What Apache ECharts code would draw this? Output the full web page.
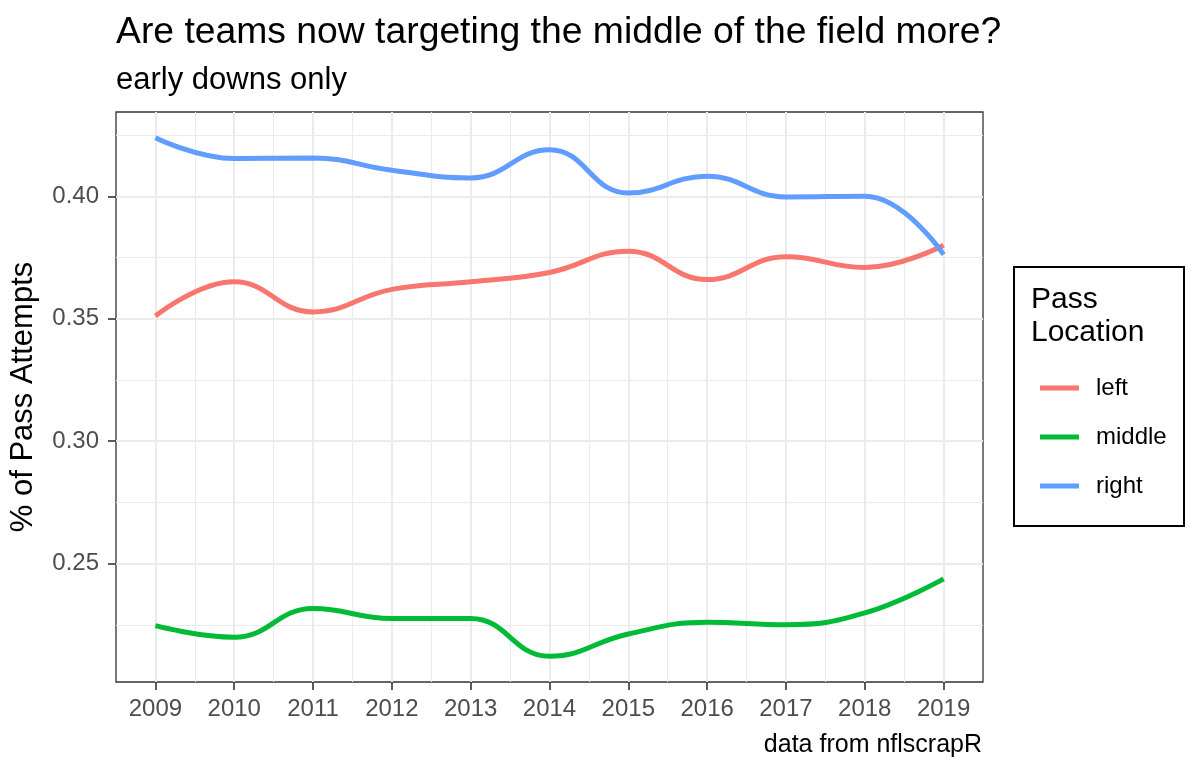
<!DOCTYPE html>
<html>
<head>
<meta charset="utf-8">
<script src="https://cdn.jsdelivr.net/npm/echarts@6/dist/echarts.min.js"></script>
<style>html,body{margin:0;padding:0;background:#ffffff}#chart{width:1200px;height:775px}</style>
</head>
<body>
<div id="chart"></div>
<script>
// ---- data ----
const years = [2009, 2010, 2011, 2012, 2013, 2014, 2015, 2016, 2017, 2018, 2019];
const leftShare   = [0.3511, 0.3651, 0.3528, 0.3620, 0.3651, 0.3689, 0.3776, 0.3660, 0.3753, 0.3709, 0.3800];
const middleShare = [0.2247, 0.2200, 0.2317, 0.2276, 0.2276, 0.2122, 0.2213, 0.2261, 0.2251, 0.2299, 0.2438];
const rightShare  = [0.4239, 0.4154, 0.4156, 0.4106, 0.4075, 0.4190, 0.4013, 0.4082, 0.3997, 0.4000, 0.3762];
const seriesNames = ['left', 'middle', 'right'];
const xTicks = [2009, 2010, 2011, 2012, 2013, 2014, 2015, 2016, 2017, 2018, 2019];
const xMinorTicks = [2009.5, 2010.5, 2011.5, 2012.5, 2013.5, 2014.5, 2015.5, 2016.5, 2017.5, 2018.5];
const yTicks = [0.25, 0.30, 0.35, 0.40];
const yMinorTicks = [0.225, 0.275, 0.325, 0.375, 0.425];
const titleText = 'Are teams now targeting the middle of the field more?';
const subtitleText = 'early downs only';
const yTitle = '% of Pass Attempts';
const legendTitle = ['Pass', 'Location'];
const captionText = 'data from nflscrapR';

// ---- chart ----
const FONT = 'Liberation Sans, Arial, sans-serif';
const colors = ['#F8766D', '#00BA38', '#619CFF'];
const values = [leftShare, middleShare, rightShare];

const chart = echarts.init(document.getElementById('chart'), null, {renderer: 'canvas'});

const option = {
  animation: false,
  backgroundColor: '#ffffff',
  color: colors,
  title: {
    text: titleText,
    subtext: subtitleText,
    left: 116,
    top: 14,
    padding: 0,
    itemGap: 14,
    textStyle: {fontSize: 37.3, fontWeight: 'normal', color: '#000000', fontFamily: FONT},
    subtextStyle: {fontSize: 31, color: '#000000', fontFamily: FONT}
  },
  grid: {
    left: 116, right: 217, top: 112, bottom: 93,
    show: true, borderColor: '#333333', borderWidth: 1.3, backgroundColor: 'transparent',
    containLabel: false
  },
  xAxis: [
    {
      type: 'value', min: 2008.5, max: 2019.5, position: 'bottom',
      axisLine: {show: false},
      axisTick: {show: true, customValues: xTicks, length: 8, lineStyle: {color: '#333333', width: 1.6}},
      axisLabel: {customValues: xTicks, margin: 15, fontSize: 24, color: '#4D4D4D', fontFamily: FONT,
                  formatter: v => String(v)},
      splitLine: {show: true, lineStyle: {color: '#EBEBEB', width: 2}}
    },
    {
      type: 'value', min: 2008.5, max: 2019.5, position: 'top',
      axisLine: {show: false},
      axisTick: {show: false, customValues: xMinorTicks},
      axisLabel: {show: false, customValues: xMinorTicks},
      splitLine: {show: true, lineStyle: {color: '#EBEBEB', width: 1}}
    }
  ],
  yAxis: [
    {
      type: 'value', min: 0.2017, max: 0.4344, position: 'left',
      name: yTitle, nameLocation: 'middle', nameGap: 77,
      nameTextStyle: {fontSize: 31, color: '#000000', fontFamily: FONT},
      axisLine: {show: false},
      axisTick: {show: true, customValues: yTicks, length: 8, lineStyle: {color: '#333333', width: 1.6}},
      axisLabel: {customValues: yTicks, margin: 17, fontSize: 24, color: '#4D4D4D', fontFamily: FONT,
                  formatter: v => v.toFixed(2)},
      splitLine: {show: true, lineStyle: {color: '#EBEBEB', width: 2}}
    },
    {
      type: 'value', min: 0.2017, max: 0.4344, position: 'right',
      axisLine: {show: false},
      axisTick: {show: false, customValues: yMinorTicks},
      axisLabel: {show: false, customValues: yMinorTicks},
      splitLine: {show: true, lineStyle: {color: '#EBEBEB', width: 1}}
    }
  ],
  legend: {
    orient: 'vertical', left: 1035, top: 371,
    itemWidth: 39, itemHeight: 5, itemGap: 25, icon: 'rect',
    selectedMode: false,
    data: seriesNames,
    textStyle: {fontSize: 24, color: '#000000', fontFamily: FONT, padding: [0, 0, 0, 12]}
  },
  graphic: [
    {type: 'rect', shape: {x: 1014, y: 267, width: 170, height: 259},
     style: {fill: 'none', stroke: '#000000', lineWidth: 2}, z: 10},
    {type: 'text', x: 1031, y: 299.6,
     style: {text: legendTitle[0], fontSize: 30, fill: '#000000', fontFamily: FONT, textAlign: 'left', textVerticalAlign: 'middle'}, z: 10},
    {type: 'text', x: 1031, y: 332.6,
     style: {text: legendTitle[1], fontSize: 30, fill: '#000000', fontFamily: FONT, textAlign: 'left', textVerticalAlign: 'middle'}, z: 10},
    {type: 'text', x: 982, y: 745.5,
     style: {text: captionText, fontSize: 25, fill: '#000000', fontFamily: FONT, textAlign: 'right', textVerticalAlign: 'middle'}, z: 10}
  ],
  series: seriesNames.map((name, i) => ({
    name: name,
    type: 'line',
    xAxisIndex: 0,
    yAxisIndex: 0,
    data: years.map((yr, j) => [yr, values[i][j]]),
    smooth: 0.45,
    showSymbol: false,
    symbol: 'none',
    lineStyle: {width: 5, color: colors[i], cap: 'butt'},
    itemStyle: {color: colors[i]},
    emphasis: {disabled: true},
    z: 3 + i
  }))
};

chart.setOption(option);
</script>
</body>
</html>
